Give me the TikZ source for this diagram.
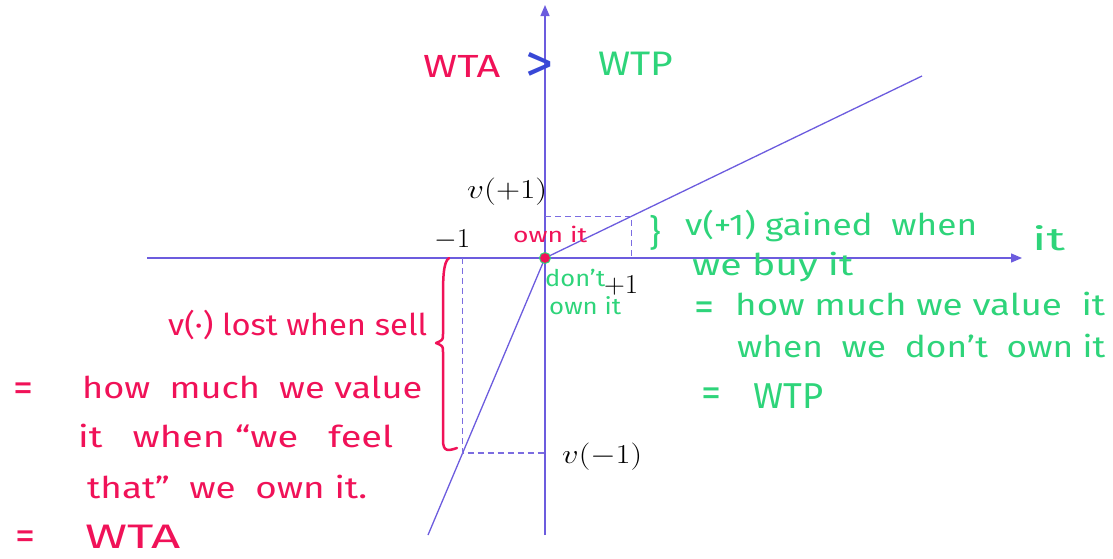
\documentclass[tikz,border=0pt]{standalone}
\usepackage{fontspec}
\setmainfont{Fira Sans}
\usetikzlibrary{arrows.meta,calc}
\definecolor{ax}{RGB}{108,92,222}
\definecolor{hred}{RGB}{240,18,88}
\definecolor{hgreen}{RGB}{46,212,122}
\definecolor{gtblue}{RGB}{56,72,214}
\newcommand\hw[2]{\resizebox{#1}{\height}{#2}}
\newcommand\mlab[2]{\resizebox{#1}{\height}{\scalebox{1.1}{#2}}}
\begin{document}
\begin{tikzpicture}[x=1pt,y=-1pt,
  axisline/.style={ax,line width=1.3pt},
  axisarrow/.style={axisline,-{Triangle[length=11pt,width=9pt]}},
  guide/.style={ax!90,line width=1.1pt,dash pattern=on 6pt off 4pt},
  hand/.style={inner sep=0pt,anchor=base west,font=\fontsize{30}{30}\selectfont},
  rednote/.style={hand,text=hred},
  greennote/.style={hand,text=hgreen},
  eqsign/.style={inner sep=0pt,font=\fontsize{40}{40}\selectfont},
  mathlab/.style={inner sep=0pt,anchor=base west,font=\fontsize{24.88}{25}\selectfont}]
\useasboundingbox (0,0) rectangle (1113,558);
% axes
\coordinate (O) at (545,258);
\coordinate (xl) at (147,258);
\coordinate (xr) at (1022,258);
\coordinate (yt) at (545,5);
\coordinate (yb) at (545,535);
\coordinate (up) at (922,76);
\coordinate (lo) at (428,535);
\draw[axisarrow] (xl) -- (xr);
\draw[axisarrow] (yb) -- (yt);
\draw[axisline] (O) -- (up);
\draw[axisline] (O) -- (lo);
\coordinate (a) at ($(O)!0.2287!(up)$);
\coordinate (b) at ($(O)!0.704!(lo)$);
\draw[guide] (a -| O) -- (a) -- (a |- O);
\draw[guide] (b |- O) -- (b) -- (b -| O);
% math labels
\node[mathlab] (vp) at (467,198) {\mlab{80pt}{$v(+1)$}};
\node[mathlab] (m1) at (434,247) {\mlab{36pt}{$-1$}};
\node[mathlab] (p1) at (604,293) {\mlab{34pt}{$+1$}};
\node[mathlab] (vm) at (562,463) {\mlab{80pt}{$v(-1)$}};
% top
\node[rednote,font=\fontsize{32}{32}\selectfont] (wta) at (423,77) {\hw{77pt}{WTA}};
\node[inner sep=0pt,text=gtblue] (gt) at (539,67) {\resizebox{28pt}{30pt}{>}};
\node[greennote,font=\fontsize{34}{34}\selectfont] (wtp) at (598,75) {\hw{75pt}{WTP}};
% origin labels
\node[rednote,font=\fontsize{21}{21}\selectfont] (own) at (513,242) {\hw{74pt}{own it}};
\node[greennote,font=\fontsize{23}{23}\selectfont] (dont) at (545,286) {\hw{60pt}{don't}};
\node[greennote,font=\fontsize{23}{23}\selectfont] (down) at (549,314) {\hw{72pt}{own it}};
\node[circle,fill=hred,draw=hgreen,line width=1pt,minimum size=11pt,inner sep=0pt] (dot) at (O) {};
% green notes
\node[inner sep=0pt,text=hgreen,font=\fontsize{36}{36}\selectfont] (br) at (655,233) {\}};
\node[greennote] (g1) at (685,235) {\hw{292pt}{v(+1) gained \ when}};
\node[greennote,font=\fontsize{32}{32}\selectfont] (git) at (1032,250) {\hw{33pt}{it}};
\node[greennote] (g2) at (692,275) {\hw{161pt}{we buy it}};
\node[eqsign,text=hgreen] (geq1) at (704,311) {=};
\node[greennote] (g3) at (735,315) {\hw{370pt}{how much we value \ it}};
\node[greennote] (g4) at (737,357) {\hw{368pt}{when \ we \ don't \ own it}};
\node[eqsign,text=hgreen] (geq2) at (711,397) {=};
\node[greennote,font=\fontsize{36}{36}\selectfont] (g5) at (753,408) {\hw{70pt}{WTP}};
% red notes
\draw[hred,line width=2.5pt,line cap=round,line join=round]
  (449,258) .. controls (443,262) and (443,280) .. (443,300) -- (443,334)
  .. controls (443,340) .. (436,343) .. controls (443,346) .. (443,352)
  -- (443,440) .. controls (443,452) and (448,451) .. (457,448);
\node[rednote] (r1) at (168,335) {\hw{259pt}{v(·) lost when sell}};
\node[eqsign,text=hred] (req1) at (23,392) {=};
\node[rednote] (r2) at (82,398) {\hw{340pt}{how \ much \ we value}};
\node[rednote] (r3) at (78,447) {\hw{315pt}{it \ \ when “we \ \ feel}};
\node[rednote] (r4) at (87,498) {\hw{280pt}{that” \ we \ own it.}};
\node[eqsign,text=hred] (req2) at (25,540) {=};
\node[rednote,font=\fontsize{34}{34}\selectfont] (r5) at (85,548) {\hw{95pt}{WTA}};
\end{tikzpicture}
\end{document}
